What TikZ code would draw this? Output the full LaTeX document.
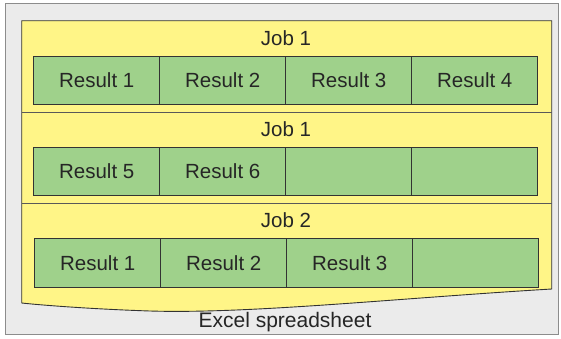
\documentclass[tikz,border=0pt]{standalone}
\usepackage{fontspec}
\setmainfont{Liberation Sans}
\definecolor{bgray}{HTML}{EBEBEB}
\definecolor{bline}{HTML}{8C8C8C}
\definecolor{docyellow}{HTML}{FFF587}
\definecolor{cellgreen}{HTML}{9FD18B}
\definecolor{dline}{HTML}{333333}
\tikzset{
  cell/.style={draw=dline, line width=0.9pt, fill=cellgreen, minimum width=126pt, minimum height=48.3pt, inner sep=0pt, anchor=north west, font=\fontsize{20.5}{24}\selectfont, text=black!85},
  joblabel/.style={font=\fontsize{20.5}{24}\selectfont, text=black!85, inner sep=0pt},
  sepline/.style={draw=black!65, line width=1.2pt}
}
\begin{document}
\begin{tikzpicture}[x=1pt,y=-1pt]
\useasboundingbox (0,0) rectangle (561,338);
\draw[bline, line width=1.2pt, fill=bgray] (5.5,3.5) rectangle (558.5,334.5);
\draw[dline, line width=0.9pt, fill=docyellow] (21.7,20.7) -- (551.7,20.7) -- (551.7,289)
  .. controls (400,298) and (250,314) .. (150,311)
  .. controls (90,309) and (40,305) .. (21.7,303) -- cycle;
\draw[sepline] (21.7,112.5) -- (551.7,112.5);
\draw[sepline] (21.7,203.5) -- (551.7,203.5);
\node[joblabel] (j1) at (286,38) {Job 1};
\node[joblabel] (j2) at (286,129) {Job 1};
\node[joblabel] (j3) at (286,220) {Job 2};
% row 1
\node[cell] (a1) at (33.3,55.7) {Result 1};
\node[cell] (a2) at (159.3,55.7) {Result 2};
\node[cell] (a3) at (285.3,55.7) {Result 3};
\node[cell] (a4) at (411.3,55.7) {Result 4};
% row 2
\node[cell] (b1) at (33.3,147) {Result 5};
\node[cell] (b2) at (159.3,147) {Result 6};
\node[cell] (b3) at (285.3,147) {};
\node[cell] (b4) at (411.3,147) {};
% row 3
\node[cell] (c1) at (34.3,238.3) {Result 1};
\node[cell] (c2) at (160.3,238.3) {Result 2};
\node[cell] (c3) at (286.3,238.3) {Result 3};
\node[cell] (c4) at (412.3,238.3) {};
\node[joblabel, font=\fontsize{21}{24}\selectfont] (xl) at (285,322) {Excel spreadsheet};
\end{tikzpicture}
\end{document}
